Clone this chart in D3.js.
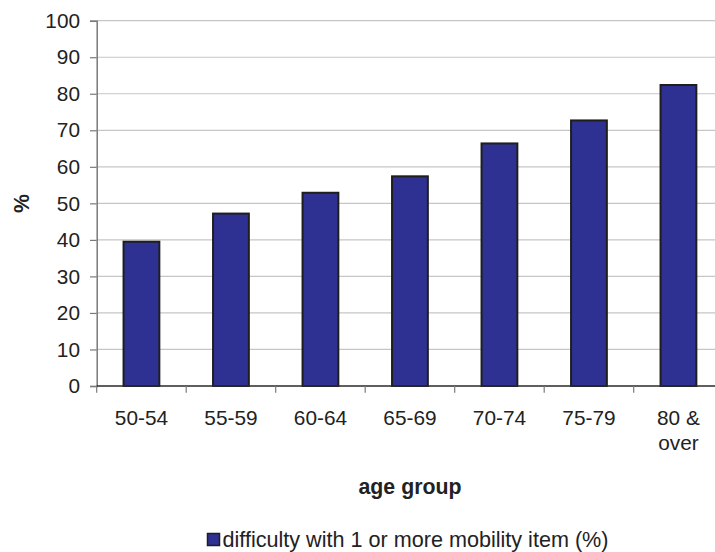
<!DOCTYPE html>
<html>
<head>
<meta charset="utf-8">
<script src="https://cdn.jsdelivr.net/npm/d3@7"></script>
<style>
  html, body { margin: 0; padding: 0; background: #fff; }
  svg { display: block; overflow: hidden; }
  text { font-family: "Liberation Sans", Arial, sans-serif; fill: #222; }
</style>
</head>
<body>
<svg id="chart" width="715" height="552"></svg>
<script>
// Age groups and share with mobility difficulty (%)
const categories = ["50-54", "55-59", "60-64", "65-69", "70-74", "75-79", "80 & over"];
const values = [39.5, 47.2, 52.9, 57.4, 66.4, 72.7, 82.4];
const yTicks = [0, 10, 20, 30, 40, 50, 60, 70, 80, 90, 100];
const seriesName = "difficulty with 1 or more mobility item (%)";

const svg = d3.select("#chart");
const plotLeft = 96.7, plotTop = 20.7, plotBottom = 386, step = 89.5;
const plotRight = plotLeft + step * categories.length;
const fontSize = 20.8;

const x = d3.scaleBand()
  .domain(categories)
  .range([plotLeft, plotRight])
  .paddingInner(0.6)
  .paddingOuter(0.3);

const y = d3.scaleLinear().domain([0, 100]).range([plotBottom, plotTop]);

// horizontal gridlines
svg.append("g")
  .selectAll("line")
  .data(yTicks.filter(d => d > 0))
  .join("line")
  .attr("x1", plotLeft).attr("x2", plotRight)
  .attr("y1", d => y(d)).attr("y2", d => y(d))
  .attr("stroke", "#c6c6c6").attr("stroke-width", 1.2);

// y axis
const yAxis = svg.append("g")
  .attr("transform", `translate(${plotLeft},0)`)
  .call(d3.axisLeft(y).tickValues(yTicks).tickSize(6.7).tickPadding(10));
yAxis.select(".domain").attr("stroke", "#7a7a7a").attr("stroke-width", 1.5);
yAxis.selectAll(".tick line").attr("stroke", "#7a7a7a").attr("stroke-width", 1.2);
yAxis.selectAll(".tick text")
  .attr("font-size", fontSize)
  .attr("font-family", "Liberation Sans, Arial, sans-serif")
  .attr("fill", "#222");

// bars
svg.append("g")
  .selectAll("rect")
  .data(values)
  .join("rect")
  .attr("x", (d, i) => x(categories[i]))
  .attr("y", d => y(d))
  .attr("width", x.bandwidth())
  .attr("height", d => y(0) - y(d))
  .attr("fill", "#2e3192")
  .attr("stroke", "#1e1e1e")
  .attr("stroke-width", 2);

// x axis line and band-edge ticks
svg.append("line")
  .attr("x1", plotLeft).attr("x2", plotRight)
  .attr("y1", plotBottom).attr("y2", plotBottom)
  .attr("stroke", "#2a2a2a").attr("stroke-width", 1.5);

const edges = d3.range(categories.length + 1).map(i => plotLeft + i * x.step());
svg.append("g")
  .selectAll("line")
  .data(edges)
  .join("line")
  .attr("x1", d => d).attr("x2", d => d)
  .attr("y1", plotBottom).attr("y2", plotBottom + 6.7)
  .attr("stroke", "#7a7a7a").attr("stroke-width", 1.2);

// category labels (the last group wraps onto two lines)
const labelG = svg.append("g");
categories.forEach(c => {
  const cx = x(c) + x.bandwidth() / 2;
  const lines = c === "80 & over" ? ["80 &", "over"] : [c];
  const t = labelG.append("text")
    .attr("text-anchor", "middle")
    .attr("font-size", fontSize);
  lines.forEach((ln, k) => {
    t.append("tspan").attr("x", cx).attr("y", 424.5 + k * 25.5).text(ln);
  });
});

// axis titles
svg.append("text")
  .attr("x", 410).attr("y", 494)
  .attr("text-anchor", "middle")
  .attr("font-size", 21.3).attr("font-weight", "bold")
  .text("age group");

svg.append("text")
  .attr("transform", "translate(28.5,203.5) rotate(-90)")
  .attr("text-anchor", "middle")
  .attr("font-size", 21.3).attr("font-weight", "bold")
  .text("%");

// legend
const legend = svg.append("g");
legend.append("rect")
  .attr("x", 207.5).attr("y", 533.5)
  .attr("width", 12).attr("height", 12)
  .attr("fill", "#2e3192")
  .attr("stroke", "#1e1e1e").attr("stroke-width", 1.5);
legend.append("text")
  .attr("x", 222.5).attr("y", 546.5)
  .attr("font-size", 21.6)
  .text(seriesName);
</script>
</body>
</html>
